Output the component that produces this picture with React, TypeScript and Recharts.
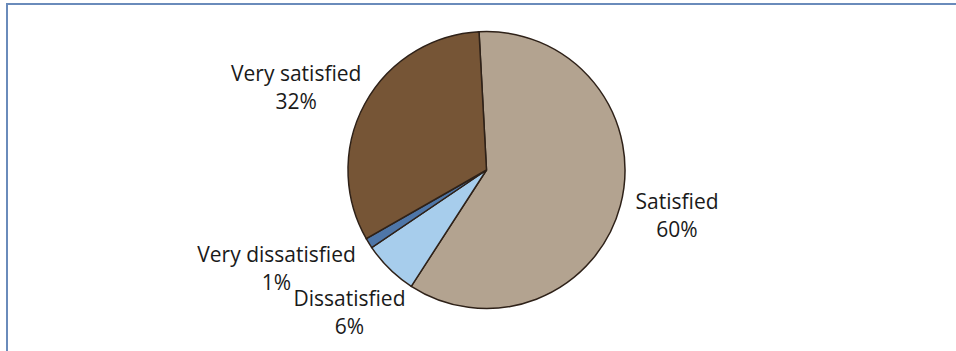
import React from "react";
import { PieChart, Pie, Cell } from "recharts";

const CATEGORIES = ["Satisfied", "Dissatisfied", "Very dissatisfied", "Very satisfied"];
const SHARES = [60.0, 6.4, 1.2, 32.4];

const SLICE_COLOR: Record<string, string> = {
  "Satisfied": "#b3a390",
  "Dissatisfied": "#a7cdec",
  "Very dissatisfied": "#4e76a8",
  "Very satisfied": "#765536",
};

// Excel pushed the two small labels apart; nudge them the same way
const LABEL_NUDGE: Record<string, [number, number]> = {
  "Satisfied": [4, 1],
  "Very dissatisfied": [-14, 7],
  "Dissatisfied": [8, 19],
};

const FONT = "'Open Sans', sans-serif";
const FONT_SIZE = 21;

const data = CATEGORIES.map((name, i) => ({ name, value: SHARES[i] }));

function approxWidth(s: string) {
  return s.length * FONT_SIZE * 0.45;
}

function renderLabel(props: any) {
  const { cx, cy, midAngle, outerRadius, name, value } = props;
  const rad = (midAngle * Math.PI) / 180;
  const cos = Math.cos(rad);
  const sin = Math.sin(rad);
  const ax = cx + (outerRadius + 12) * cos;
  const ay = cy - (outerRadius + 12) * sin;
  const halfW = approxWidth(name) / 2;
  const halfH = 22;
  const nudge = LABEL_NUDGE[name] ?? [0, 0];
  const x = ax + cos * halfW + nudge[0];
  const y = ay - sin * halfH + nudge[1];
  return (
    <text x={x} y={y} textAnchor="middle" fontFamily={FONT} fontSize={FONT_SIZE} fill="#1a1a1a">
      <tspan x={x} y={y - 6}>{name}</tspan>
      <tspan x={x} y={y + 22}>{`${Math.round(value)}%`}</tspan>
    </text>
  );
}

export default function App() {
  return (
    <div style={{ position: "absolute", left: 0, top: 0, width: 956, height: 351, overflow: "hidden", background: "#fff" }}>
      <div
        style={{
          position: "absolute",
          left: 6,
          top: 3,
          width: 1000,
          height: 400,
          borderTop: "2px solid #6a8bbb",
          borderLeft: "2px solid #6a8bbb",
        }}
      />
      <div style={{ position: "absolute", left: 0, top: 0 }}>
        <PieChart width={956} height={351} margin={{ top: 0, right: 0, bottom: 0, left: 0 }}>
          <Pie
            data={data}
            dataKey="value"
            nameKey="name"
            cx={486.5}
            cy={170}
            outerRadius={138.5}
            startAngle={93.1}
            endAngle={-266.9}
            stroke="#2e2118"
            strokeWidth={1.5}
            label={renderLabel}
            labelLine={false}
            isAnimationActive={false}
          >
            {data.map((d) => (
              <Cell key={d.name} fill={SLICE_COLOR[d.name]} />
            ))}
          </Pie>
        </PieChart>
      </div>
    </div>
  );
}
